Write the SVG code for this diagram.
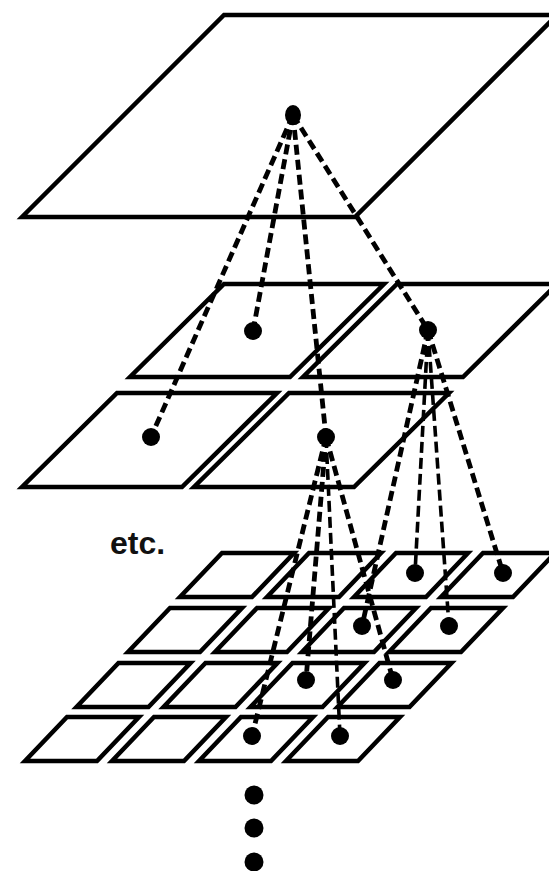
<svg xmlns="http://www.w3.org/2000/svg" xmlns:xlink="http://www.w3.org/1999/xlink" width="549" height="871" viewBox="0 0 549 871">
  <style>
    .plane { fill: none; stroke: #000; stroke-width: 4.5; stroke-linejoin: miter; }
    .cell { fill: none; stroke: #000; stroke-width: 4.5; stroke-linejoin: miter; }
    .dot { fill: #000; }
    .link { fill: none; stroke: #000; stroke-width: 4.8; stroke-dasharray: 10 5; }
    .link.thin { stroke-width: 3.6; stroke-dasharray: 11 5; }
    .label { font-family: "Liberation Sans", Arial, sans-serif; font-weight: bold; font-size: 32px; fill: #111; }
  </style>
  <defs>
    <!-- one sheared grid cell, anchored at its top-left corner -->
    <path id="cellShape" d="M0,0 H72 L30,44 H-42 Z"/>
  </defs>

  <rect width="549" height="871" fill="#fff"/>

  <!-- level 0: the whole area -->
  <g id="level0">
    <path class="plane" d="M224,15 H557 L355,217 H22 Z"/>
  </g>

  <!-- level 1: four quadrants -->
  <g id="level1">
    <path id="q-nw" class="plane" d="M224,284 H384 L290,377 H130 Z"/>
    <path id="q-ne" class="plane" d="M397,284 H557 L463,377 H303 Z"/>
    <path id="q-sw" class="plane" d="M117,393 H277 L182,487 H22 Z"/>
    <path id="q-se" class="plane" d="M289,393 H449 L354,487 H194 Z"/>
  </g>

  <!-- level 2: 4 x 4 grid of cells -->
  <g id="level2">
    <g id="row1">
      <use class="cell" xlink:href="#cellShape" x="222" y="553"/>
      <use class="cell" xlink:href="#cellShape" x="309" y="553"/>
      <use class="cell" xlink:href="#cellShape" x="396" y="553"/>
      <use class="cell" xlink:href="#cellShape" x="483" y="553"/>
    </g>
    <g id="row2">
      <use class="cell" xlink:href="#cellShape" x="170" y="608"/>
      <use class="cell" xlink:href="#cellShape" x="257" y="608"/>
      <use class="cell" xlink:href="#cellShape" x="344" y="608"/>
      <use class="cell" xlink:href="#cellShape" x="431" y="608"/>
    </g>
    <g id="row3">
      <use class="cell" xlink:href="#cellShape" x="118.5" y="663"/>
      <use class="cell" xlink:href="#cellShape" x="205.5" y="663"/>
      <use class="cell" xlink:href="#cellShape" x="292.5" y="663"/>
      <use class="cell" xlink:href="#cellShape" x="379.5" y="663"/>
    </g>
    <g id="row4">
      <use class="cell" xlink:href="#cellShape" x="67" y="717"/>
      <use class="cell" xlink:href="#cellShape" x="154" y="717"/>
      <use class="cell" xlink:href="#cellShape" x="241" y="717"/>
      <use class="cell" xlink:href="#cellShape" x="328" y="717"/>
    </g>
  </g>

  <!-- parent-to-child links -->
  <g id="connectors">
    <line class="link" x1="293" y1="115" x2="151" y2="437"/>
    <line class="link" x1="293" y1="115" x2="253" y2="331"/>
    <line class="link" x1="293" y1="115" x2="326" y2="437"/>
    <line class="link" x1="293" y1="115" x2="428" y2="330"/>

    <line class="link thin" x1="428" y1="330" x2="415" y2="573"/>
    <line class="link" x1="428" y1="330" x2="503" y2="573"/>
    <line class="link" x1="428" y1="330" x2="362" y2="626"/>
    <line class="link thin" x1="428" y1="330" x2="449" y2="626"/>

    <line class="link" x1="326" y1="437" x2="306" y2="680"/>
    <line class="link" x1="326" y1="437" x2="393" y2="680"/>
    <line class="link" x1="326" y1="437" x2="252" y2="736"/>
    <line class="link thin" x1="326" y1="437" x2="340" y2="736"/>
  </g>

  <!-- tree nodes -->
  <g id="node-root"><ellipse class="dot" cx="293" cy="115" rx="8" ry="10"/></g>
  <g id="node-nw"><circle class="dot" cx="253" cy="331" r="9"/></g>
  <g id="node-ne"><circle class="dot" cx="428" cy="330" r="9"/></g>
  <g id="node-sw"><circle class="dot" cx="151" cy="437" r="9"/></g>
  <g id="node-se"><circle class="dot" cx="326" cy="437" r="9"/></g>

  <g id="node-r1c3"><circle class="dot" cx="415" cy="573" r="9"/></g>
  <g id="node-r1c4"><circle class="dot" cx="503" cy="573" r="9"/></g>
  <g id="node-r2c3"><circle class="dot" cx="362" cy="626" r="9"/></g>
  <g id="node-r2c4"><circle class="dot" cx="449" cy="626" r="9"/></g>
  <g id="node-r3c3"><circle class="dot" cx="306" cy="680" r="9"/></g>
  <g id="node-r3c4"><circle class="dot" cx="393" cy="680" r="9"/></g>
  <g id="node-r4c3"><circle class="dot" cx="252" cy="736" r="9"/></g>
  <g id="node-r4c4"><circle class="dot" cx="340" cy="736" r="9"/></g>

  <!-- continuation marks -->
  <g id="ellipsis">
    <circle class="dot" cx="254" cy="795" r="9.5"/>
    <circle class="dot" cx="254" cy="828" r="9.5"/>
    <circle class="dot" cx="254" cy="862" r="9.5"/>
  </g>

  <g id="label-etc">
    <text class="label" x="110" y="554">etc.</text>
  </g>
</svg>
